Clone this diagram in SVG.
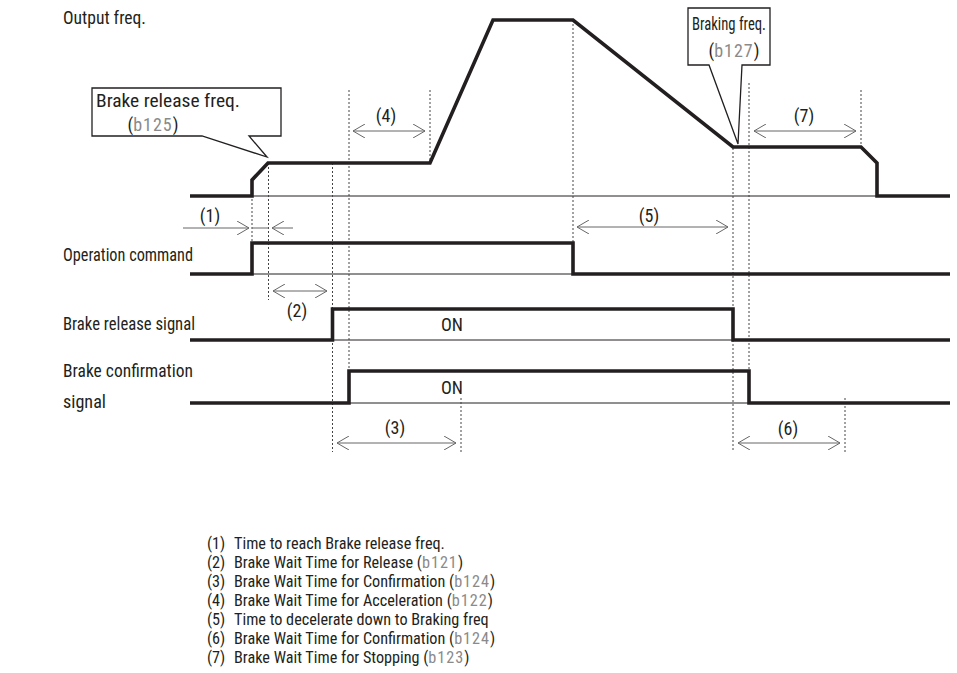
<svg xmlns="http://www.w3.org/2000/svg" width="957" height="673" viewBox="0 0 957 673">
<style>
text{font-family:"Liberation Sans Narrow","Roboto Condensed","Liberation Sans",Arial,sans-serif;font-size:18px;fill:#231f20}
#legend text{font-size:16.2px}
.code{fill:#8a8a8a;letter-spacing:1px}
.bold{fill:none;stroke:#231f20;stroke-width:3.6;stroke-linejoin:miter}
.thin{fill:none;stroke:#231f20;stroke-width:1}
.dot{fill:none;stroke:#444;stroke-width:1;stroke-dasharray:2,2}
.arr{fill:none;stroke:#666;stroke-width:1}
.box{fill:#fff;stroke:#231f20;stroke-width:1.3}
.c{text-anchor:middle}
</style>
<defs>
<marker id="ah" viewBox="0 0 12 14" refX="12" refY="7" markerWidth="12" markerHeight="14" markerUnits="userSpaceOnUse" orient="auto-start-reverse">
<path d="M0,0 L12,7 L0,14" fill="none" stroke="#666" stroke-width="1"/>
</marker>
</defs>

<g id="baselines">
<line class="thin" x1="190" y1="196" x2="950" y2="196"/>
<line class="thin" x1="190" y1="274" x2="950" y2="274"/>
<line class="thin" x1="190" y1="340" x2="950" y2="340"/>
<line class="thin" x1="190" y1="403" x2="950" y2="403"/>
</g>

<g id="guides">
<line class="dot" x1="252" y1="183" x2="252" y2="243"/>
<line class="dot" x1="268.5" y1="163" x2="268.5" y2="300"/>
<line class="dot" x1="332.5" y1="163" x2="332.5" y2="452"/>
<line class="dot" x1="349" y1="90" x2="349" y2="371"/>
<line class="dot" x1="430" y1="90" x2="430" y2="163"/>
<line class="dot" x1="461" y1="398" x2="461" y2="452"/>
<line class="dot" x1="573" y1="20" x2="573" y2="243"/>
<line class="dot" x1="733" y1="148" x2="733" y2="452"/>
<line class="dot" x1="749" y1="83" x2="749" y2="371"/>
<line class="dot" x1="845" y1="398" x2="845" y2="452"/>
<line class="dot" x1="861" y1="90" x2="861" y2="147"/>
</g>

<g id="output-freq">
<text x="63" y="24" textLength="83" lengthAdjust="spacingAndGlyphs">Output freq.</text>
<polyline class="bold" points="190,196 252,196 252,180 268,163 430,163 493,20 573,20 733,147 861,147 877,163 877,196 950,196"/>
</g>

<g id="operation-command">
<text x="63" y="261" textLength="130" lengthAdjust="spacingAndGlyphs">Operation command</text>
<polyline class="bold" points="190,274 252,274 252,243 573,243 573,274 950,274"/>
</g>

<g id="brake-release-signal">
<text x="63" y="330" textLength="132" lengthAdjust="spacingAndGlyphs">Brake release signal</text>
<polyline class="bold" points="190,340 332.5,340 332.5,309 733,309 733,340 950,340"/>
<text class="c" x="452" y="331">ON</text>
</g>

<g id="brake-confirmation-signal">
<text x="63" y="377" textLength="130" lengthAdjust="spacingAndGlyphs">Brake confirmation</text>
<text x="63" y="408" textLength="43" lengthAdjust="spacingAndGlyphs">signal</text>
<polyline class="bold" points="190,403 349,403 349,371 749,371 749,403 950,403"/>
<text class="c" x="452" y="394">ON</text>
</g>

<g id="callout-release">
<path class="box" d="M92,88 H281 V136 H249 L267,157 L202,136 H92 Z"/>
<text x="96" y="107" textLength="144" lengthAdjust="spacingAndGlyphs">Brake release freq.</text>
<text class="c" x="153" y="131">(<tspan class="code">b125</tspan>)</text>
</g>

<g id="callout-braking">
<path class="box" d="M688,8 H770 V65 H742 L738,144 L709,65 H688 Z"/>
<text x="692" y="30" textLength="74" lengthAdjust="spacingAndGlyphs">Braking freq.</text>
<text class="c" x="734" y="57">(<tspan class="code">b127</tspan>)</text>
</g>

<g id="connectors">
<line class="arr" x1="183" y1="228" x2="249" y2="228" marker-end="url(#ah)"/>
<line class="arr" x1="252" y1="228" x2="268.5" y2="228"/>
<line class="arr" x1="293" y1="228" x2="272" y2="228" marker-end="url(#ah)"/>
<line class="arr" x1="273" y1="291" x2="327" y2="291" marker-start="url(#ah)" marker-end="url(#ah)"/>
<line class="arr" x1="337" y1="443" x2="456" y2="443" marker-start="url(#ah)" marker-end="url(#ah)"/>
<line class="arr" x1="353" y1="131" x2="425" y2="131" marker-start="url(#ah)" marker-end="url(#ah)"/>
<line class="arr" x1="577" y1="227" x2="728" y2="227" marker-start="url(#ah)" marker-end="url(#ah)"/>
<line class="arr" x1="738" y1="443" x2="840" y2="443" marker-start="url(#ah)" marker-end="url(#ah)"/>
<line class="arr" x1="754" y1="131" x2="856" y2="131" marker-start="url(#ah)" marker-end="url(#ah)"/>
</g>

<g id="interval-labels">
<text class="c" x="210" y="222">(1)</text>
<text class="c" x="297" y="317">(2)</text>
<text class="c" x="395" y="434">(3)</text>
<text class="c" x="386" y="122">(4)</text>
<text class="c" x="649" y="222">(5)</text>
<text class="c" x="788" y="435">(6)</text>
<text class="c" x="804" y="122">(7)</text>
</g>

<g id="legend">
<text x="207" y="549">(1)</text><text x="234" y="549">Time to reach Brake release freq.</text>
<text x="207" y="568">(2)</text><text x="234" y="568">Brake Wait Time for Release (<tspan class="code">b121</tspan>)</text>
<text x="207" y="587">(3)</text><text x="234" y="587">Brake Wait Time for Confirmation (<tspan class="code">b124</tspan>)</text>
<text x="207" y="606">(4)</text><text x="234" y="606">Brake Wait Time for Acceleration (<tspan class="code">b122</tspan>)</text>
<text x="207" y="625">(5)</text><text x="234" y="625">Time to decelerate down to Braking freq</text>
<text x="207" y="644">(6)</text><text x="234" y="644">Brake Wait Time for Confirmation (<tspan class="code">b124</tspan>)</text>
<text x="207" y="663">(7)</text><text x="234" y="663">Brake Wait Time for Stopping (<tspan class="code">b123</tspan>)</text>
</g>
</svg>
